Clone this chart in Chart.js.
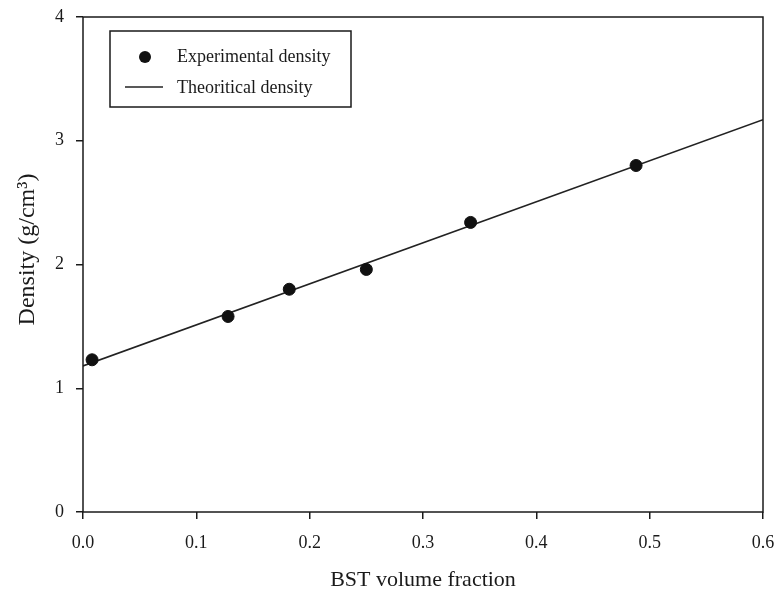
<!DOCTYPE html>
<html>
<head>
<meta charset="utf-8">
<script src="https://cdn.jsdelivr.net/npm/chart.js@4"></script>
<style>
  html, body { margin: 0; padding: 0; background: #fff; }
  #wrap { width: 779px; height: 594px; }
</style>
</head>
<body>
<div id="wrap"><canvas id="densityChart" width="779" height="594"></canvas></div>
<script>
// values
const bstFraction = [0.008, 0.128, 0.182, 0.25, 0.342, 0.488];
const expDensity = [1.23, 1.58, 1.80, 1.96, 2.34, 2.80];
const theoryFraction = [0, 0.6];
const theoryDensity = [1.18, 3.17];
const xTicks = [0, 0.1, 0.2, 0.3, 0.4, 0.5, 0.6];
const yTicks = [0, 1, 2, 3, 4];

const ink = "#1a1a1a";
const serif = "'Liberation Serif', 'Times New Roman', serif";

// box round the plot area
const framePlugin = {
  id: "frame",
  afterDatasetsDraw(chart) {
    const { ctx, chartArea: a } = chart;
    ctx.save();
    ctx.strokeStyle = ink;
    ctx.lineWidth = 1.5;
    ctx.strokeRect(a.left, a.top, a.right - a.left, a.bottom - a.top);
    ctx.restore();
  }
};

// legend drawn inside the plot, top left
const boxLegend = {
  id: "boxLegend",
  afterDraw(chart) {
    const ctx = chart.ctx;
    const ds = chart.data.datasets;
    ctx.save();
    ctx.strokeStyle = ink;
    ctx.lineWidth = 1.5;
    ctx.strokeRect(110, 31, 241, 76);
    // experimental
    ctx.fillStyle = ds[0].backgroundColor;
    ctx.beginPath();
    ctx.arc(145, 57, 6, 0, Math.PI * 2);
    ctx.fill();
    // theoretical
    ctx.strokeStyle = ds[1].borderColor;
    ctx.lineWidth = ds[1].borderWidth;
    ctx.beginPath();
    ctx.moveTo(125, 87);
    ctx.lineTo(163, 87);
    ctx.stroke();
    ctx.fillStyle = ink;
    ctx.font = "18px " + serif;
    ctx.textBaseline = "middle";
    ctx.fillText(ds[0].label, 177, 57);
    ctx.fillText(ds[1].label, 177, 88);
    ctx.restore();
  }
};

const ctx = document.getElementById("densityChart").getContext("2d");
const chart = new Chart(ctx, {
  type: "scatter",
  data: {
    datasets: [
      {
        label: "Experimental density",
        data: bstFraction.map((x, i) => ({ x: x, y: expDensity[i] })),
        backgroundColor: "#111",
        borderColor: "#111",
        pointRadius: 6,
        showLine: false
      },
      {
        label: "Theoritical density",
        data: theoryFraction.map((x, i) => ({ x: x, y: theoryDensity[i] })),
        borderColor: "#222",
        borderWidth: 1.6,
        pointRadius: 0,
        showLine: true
      }
    ]
  },
  options: {
    responsive: false,
    animation: false,
    layout: { padding: { top: 17, right: 16, left: 0, bottom: 0 } },
    plugins: {
      legend: { display: false },
      tooltip: { enabled: false }
    },
    scales: {
      x: {
        type: "linear",
        min: 0,
        max: 0.6,
        afterBuildTicks: (s) => { s.ticks = xTicks.map((v) => ({ value: v })); },
        afterFit: (s) => {
          s.height = 82;
          s.paddingLeft = 0;
          s.paddingRight = 0;
        },
        grid: { drawOnChartArea: false, tickLength: 7, color: ink, lineWidth: 1.5 },
        border: { display: false },
        ticks: {
          color: ink,
          padding: 13,
          font: { family: serif, size: 18 },
          callback: (v) => Number(v).toFixed(1)
        },
        title: {
          display: true,
          text: "BST volume fraction",
          color: ink,
          font: { family: serif, size: 22 },
          padding: { top: 0, bottom: 1 }
        }
      },
      y: {
        min: 0,
        max: 4,
        afterBuildTicks: (s) => { s.ticks = yTicks.map((v) => ({ value: v })); },
        afterFit: (s) => {
          s.width = 83;
          s.paddingTop = 0;
          s.paddingBottom = 0;
        },
        grid: { drawOnChartArea: false, tickLength: 7, color: ink, lineWidth: 1.5 },
        border: { display: false },
        ticks: {
          color: ink,
          padding: 12,
          font: { family: serif, size: 18 },
          callback: (v) => String(v)
        },
        title: {
          display: true,
          // leading spaces nudge the rotated title up a little, as in the original
          text: "     Density (g/cm³)",
          color: ink,
          font: { family: serif, size: 24 },
          padding: { top: 13, bottom: 0 }
        }
      }
    }
  },
  plugins: [framePlugin, boxLegend]
});
</script>
</body>
</html>
